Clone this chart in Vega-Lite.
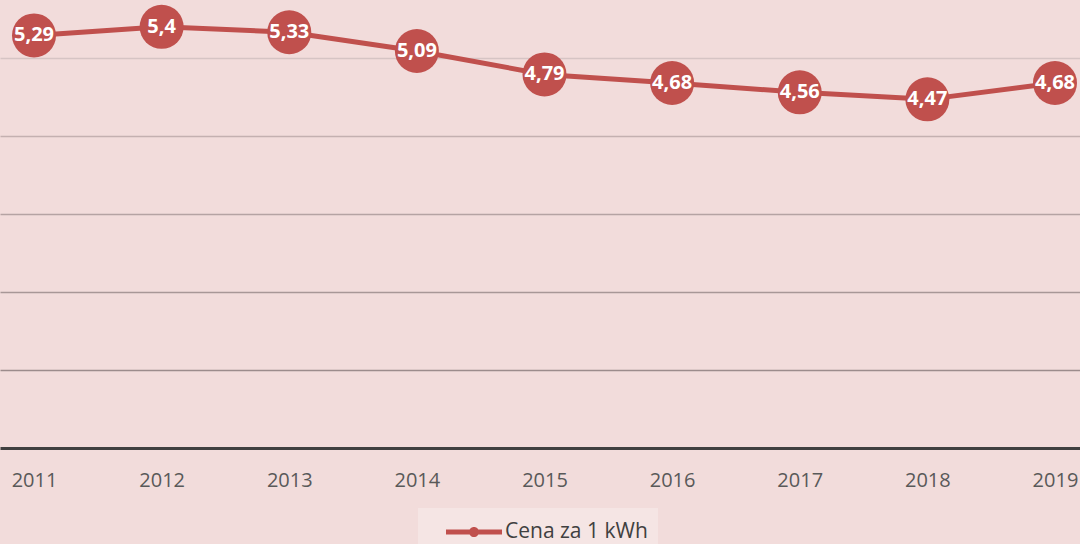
{
  "$schema": "https://vega.github.io/schema/vega-lite/v6.json",
  "width": 1089,
  "height": 448,
  "padding": {"left": 0, "top": 0, "right": 0, "bottom": 96},
  "autosize": {"type": "none"},
  "background": "#f2dcdb",
  "config": {
    "view": {"stroke": null},
    "font": "Open Sans",
    "locale": {"number": {"decimal": ",", "thousands": " ", "grouping": [3], "currency": ["", " zł"]}}
  },
  "data": {
    "values": [
      {"year": "2011", "price": 5.29, "series": "Cena za 1 kWh"},
      {"year": "2012", "price": 5.4, "series": "Cena za 1 kWh"},
      {"year": "2013", "price": 5.33, "series": "Cena za 1 kWh"},
      {"year": "2014", "price": 5.09, "series": "Cena za 1 kWh"},
      {"year": "2015", "price": 4.79, "series": "Cena za 1 kWh"},
      {"year": "2016", "price": 4.68, "series": "Cena za 1 kWh"},
      {"year": "2017", "price": 4.56, "series": "Cena za 1 kWh"},
      {"year": "2018", "price": 4.47, "series": "Cena za 1 kWh"},
      {"year": "2019", "price": 4.68, "series": "Cena za 1 kWh"}
    ]
  },
  "encoding": {
    "x": {
      "field": "year", "type": "ordinal",
      "scale": {"type": "point", "padding": 0.2665},
      "axis": {
        "title": null, "labelAngle": 0, "ticks": false, "labelPadding": 22,
        "labelFontSize": 20, "labelColor": "#595959",
        "domainColor": "#404040", "domainWidth": 3, "labelFont": "Open Sans"
      }
    },
    "y": {
      "field": "price", "type": "quantitative",
      "scale": {"domain": [0, 5.744], "nice": false, "zero": true},
      "axis": {
        "title": null, "labels": false, "ticks": false, "domain": false,
        "values": [1, 2, 3, 4, 5],
        "gridWidth": 1.5,
        "gridColor": {
          "condition": [
            {"test": "datum.value >= 5", "value": "#d6c4c4"},
            {"test": "datum.value >= 4", "value": "#c4b0b0"},
            {"test": "datum.value >= 3", "value": "#b5a3a3"},
            {"test": "datum.value >= 2", "value": "#a89797"}
          ],
          "value": "#9c8c8c"
        }
      }
    }
  },
  "layer": [
    {
      "mark": {"type": "line", "strokeWidth": 5},
      "encoding": {
        "color": {
          "field": "series", "type": "nominal",
          "scale": {"range": ["#c0504d"]},
          "legend": {
            "title": null, "orient": "none", "legendX": 418, "legendY": 508,
            "fillColor": "#f5e5e4", "padding": 10, "labelFontSize": 21,
            "labelColor": "#404040", "labelFont": "Open Sans",
            "symbolType": "M-2,-0.18H2V0.18H-2Z M0.36,0A0.36,0.36 0 1,1 -0.36,0A0.36,0.36 0 1,1 0.36,0Z",
            "symbolSize": 784, "symbolFillColor": "#c0504d", "symbolStrokeColor": "#c0504d",
            "symbolStrokeWidth": 0, "symbolOffset": 32, "labelOffset": 17
          }
        }
      }
    },
    {
      "mark": {"type": "point", "filled": true, "size": 1936, "opacity": 1, "shape": "circle"},
      "encoding": {"color": {"field": "series", "type": "nominal"}}
    },
    {
      "mark": {"type": "text", "color": "white", "fontSize": 20, "fontWeight": "bold", "baseline": "middle", "align": "center", "font": "Open Sans"},
      "encoding": {"text": {"field": "price", "type": "quantitative", "format": "~g"}}
    }
  ]
}
